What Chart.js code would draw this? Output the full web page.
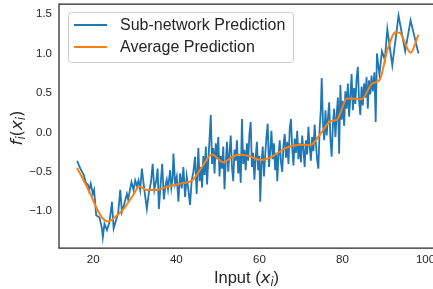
<!DOCTYPE html>
<html>
<head>
<meta charset="utf-8">
<title>Sub-network vs Average Prediction</title>
<style>
    html, body { margin: 0; padding: 0; background: #fff; overflow: hidden; }
    #wrap { position: relative; width: 433px; height: 289px; }
</style>
</head>
<body>
<div id="wrap"><canvas id="myChart"></canvas></div>

<script src="https://cdn.jsdelivr.net/npm/chart.js"></script>
<script>
// blue noisy line: one sub-network's prediction at each input
const subX = [
    16.1, 16.9, 17.7, 18.3, 18.7, 19.0, 19.4, 19.9, 20.2, 20.7, 21.5, 22.1, 22.3, 22.7, 23.3, 23.9,
    24.5, 24.9, 25.5, 26.0, 26.5, 26.9, 27.5, 28.1, 28.4, 29.2, 29.7, 30.1, 30.5, 30.9, 31.3, 31.7,
    32.3, 32.9, 33.4, 33.9, 34.3, 34.7, 35.2, 35.5, 35.8, 36.2, 36.6, 37.0, 37.4, 37.7, 38.0, 38.5,
    38.8, 39.1, 39.3, 39.7, 40.1, 40.5, 40.9, 41.3, 41.7, 42.1, 42.5, 42.9, 43.3, 43.7, 44.1, 44.5,
    44.9, 45.3, 45.6, 45.9, 46.2, 46.5, 46.8, 47.1, 47.4, 47.7, 48.0, 48.3, 48.6, 48.9, 49.2, 49.5,
    49.8, 50.1, 50.4, 50.7, 51.0, 51.3, 51.6, 51.9, 52.2, 52.5, 52.8, 53.1, 53.4, 53.7, 54.0, 54.3,
    54.6, 54.9, 55.2, 55.5, 55.8, 56.1, 56.4, 56.7, 57.0, 57.3, 57.6, 57.9, 58.2, 58.5, 58.8, 59.1,
    59.4, 59.7, 60.0, 60.2, 60.5, 60.8, 61.1, 61.4, 61.7, 62.0, 62.3, 62.6, 62.9, 63.2, 63.5, 63.8,
    64.1, 64.3, 64.6, 64.9, 65.2, 65.5, 65.8, 66.1, 66.4, 66.7, 67.0, 67.3, 67.6, 67.9, 68.2, 68.5,
    68.8, 69.1, 69.4, 69.7, 70.0, 70.3, 70.6, 70.9, 71.2, 71.5, 71.8, 72.1, 72.4, 72.7, 73.0, 73.3,
    73.6, 73.9, 74.2, 74.5, 74.8, 75.0, 75.3, 75.6, 75.9, 76.2, 76.5, 76.8, 77.1, 77.4, 77.7, 78.0,
    78.3, 78.6, 78.9, 79.2, 79.5, 79.8, 80.1, 80.4, 80.7, 81.0, 81.3, 81.6, 81.9, 82.2, 82.5, 82.8,
    83.1, 83.4, 83.7, 84.0, 84.3, 84.6, 84.9, 85.2, 85.5, 85.8, 86.1, 86.4, 86.7, 87.0, 87.3, 87.7,
    88.0, 88.3, 88.9, 89.5, 90.2, 90.8, 92.0, 93.5, 95.1, 96.4, 98.3
];
const subY = [
    -0.36, -0.46, -0.54, -0.65, -0.66, -0.74, -0.65, -0.78, -0.73, -1.05, -1.08, -1.22, -1.33, -1.16, -1.24, -1.14,
    -0.88, -1.22, -1.11, -1.02, -0.73, -1.01, -0.90, -0.78, -0.85, -0.63, -0.73, -0.61, -0.68, -0.61, -0.73, -0.46,
    -0.73, -0.97, -0.76, -0.63, -0.40, -0.73, -0.60, -0.46, -0.97, -0.67, -0.40, -0.85, -0.67, -0.60, -0.72, -0.48,
    -0.70, -0.58, -0.27, -0.65, -0.56, -0.88, -0.52, -0.71, -0.44, -0.82, -0.56, -0.73, -0.92, -0.61, -0.50, -0.31,
    -0.78, -0.20, -0.62, -0.44, -0.70, -0.30, -0.54, -0.18, -0.66, -0.36, -0.08, 0.22, -0.40, -0.20, -0.52, -0.14,
    -0.34, -0.06, -0.56, -0.30, -0.46, -0.18, -0.72, -0.38, -0.12, -0.50, -0.26, -0.04, -0.44, -0.62, -0.22, -0.36,
    -0.10, -0.52, -0.30, -0.64, 0.17, -0.40, -0.22, -0.48, -0.14, -0.36, -0.02, 0.13, -0.44, -0.26, -0.60, -0.32,
    -0.12, -0.48, -0.30, -0.88, -0.40, -0.18, -0.56, -0.28, -0.06, 0.11, -0.44, -0.24, 0.02, -0.34, -0.14, -0.48,
    -0.26, -0.62, -0.30, -0.10, -0.38, -0.50, -0.16, -0.02, -0.32, -0.12, -0.40, 0.04, 0.17, -0.20, -0.42, -0.08,
    -0.26, 0.02, -0.34, -0.14, -0.38, -0.04, -0.22, -0.44, -0.10, -0.28, 0.07, -0.18, -0.36, -0.06, -0.24, 0.10,
    -0.14, -0.35, -0.46, 0.04, 0.30, 0.69, 0.12, -0.10, 0.28, -0.04, 0.18, 0.38, -0.08, -0.31, 0.10, 0.30,
    -0.06, 0.22, 0.44, -0.27, 0.60, 0.16, 0.40, 0.08, 0.52, 0.30, 0.62, 0.20, 0.46, 0.74, 0.28, 0.56,
    0.36, 0.68, 0.83, 0.40, 0.22, 0.58, 0.34, 0.62, 0.44, 0.70, 0.30, 0.66, 0.48, 0.72, 0.52, 0.76,
    0.13, 1.00, 0.73, 1.03, 0.92, 1.31, 0.85, 1.48, 1.03, 1.42, 1.00
];

// orange smooth line: average over sub-networks
const avgX = [
    16.1, 17.7, 19.3, 20.9, 22.1, 23.7, 24.9, 27.3, 29.3, 31.1, 32.9, 35.3, 37.8, 41.0, 44.0, 45.8,
    48.6, 51.3, 53.2, 55.2, 57.5, 60.4, 63.0, 66.3, 69.5, 72.3, 74.7, 77.1, 78.7, 81.1, 84.6, 87.2,
    89.0, 90.8, 92.8, 93.8, 96.4, 98.3
];
const avgY = [
    -0.45, -0.61, -0.78, -0.97, -1.08, -1.13, -1.09, -0.97, -0.82, -0.69, -0.73, -0.73, -0.69, -0.65, -0.60, -0.47,
    -0.28, -0.38, -0.32, -0.28, -0.30, -0.35, -0.31, -0.20, -0.16, -0.16, -0.02, 0.14, 0.16, 0.43, 0.42, 0.62,
    0.67, 1.04, 1.27, 1.26, 1.01, 1.24
];

const xTicks = [20, 40, 60, 80, 100];
const yTicks = [-1.0, -0.5, 0.0, 0.5, 1.0, 1.5];

const blue = '#1f77b4';
const orange = '#ff7f0e';
const ink = '#262626';

function toPoints(xs, ys) {
    return xs.map((x, i) => ({ x: x, y: ys[i] }));
}

// draws a run of text pieces (used for the math-style axis labels)
function drawPieces(ctx, pieces, x, y) {
    let total = 0;
    pieces.forEach(p => {
        ctx.font = p.font;
        p.w = ctx.measureText(p.t).width;
        total += p.w;
    });
    let cx = x - total / 2;
    pieces.forEach(p => {
        ctx.font = p.font;
        ctx.fillText(p.t, cx, y + (p.dy || 0));
        cx += p.w;
    });
}

const framePlugin = {
    id: 'frame',
    afterDatasetsDraw(chart) {
        const ctx = chart.ctx;
        const a = chart.chartArea;
        ctx.save();

        // spines (right one falls outside the picture)
        ctx.strokeStyle = ink;
        ctx.lineWidth = 1.25;
        ctx.beginPath();
        ctx.moveTo(a.right + 2, a.top);
        ctx.lineTo(a.left, a.top);
        ctx.lineTo(a.left, a.bottom);
        ctx.lineTo(a.right + 2, a.bottom);
        ctx.stroke();

        // legend box
        ctx.beginPath();
        ctx.roundRect(68.5, 12.5, 225, 50, 3);
        ctx.fillStyle = 'rgba(255,255,255,0.8)';
        ctx.fill();
        ctx.strokeStyle = '#cccccc';
        ctx.lineWidth = 1;
        ctx.stroke();

        const rows = [25, 47];
        chart.data.datasets.forEach((ds, i) => {
            ctx.strokeStyle = ds.borderColor;
            ctx.lineWidth = ds.borderWidth;
            ctx.beginPath();
            ctx.moveTo(74, rows[i]);
            ctx.lineTo(107, rows[i]);
            ctx.stroke();
            ctx.fillStyle = ink;
            ctx.font = '16px "Liberation Sans", Arial, sans-serif';
            ctx.textBaseline = 'middle';
            ctx.textAlign = 'left';
            ctx.fillText(ds.label, 120, rows[i] + 1);
        });

        // axis titles
        ctx.fillStyle = ink;
        ctx.textBaseline = 'alphabetic';
        ctx.textAlign = 'left';
        const big = '16.5px "Liberation Sans", Arial, sans-serif';
        const mathIt = 'italic 16.5px "DejaVu Sans", sans-serif';
        const mathRm = '16.5px "DejaVu Sans", sans-serif';
        const mathSub = 'italic 11.5px "DejaVu Sans", sans-serif';

        drawPieces(ctx, [
            { t: 'Input (', font: big },
            { t: 'x', font: mathIt },
            { t: 'i', font: mathSub, dy: 3 },
            { t: ')', font: big }
        ], (a.left + 434) / 2, 282.5);

        ctx.translate(21.5, 128);
        ctx.rotate(-Math.PI / 2);
        drawPieces(ctx, [
            { t: 'f', font: mathIt },
            { t: 'i', font: mathSub, dy: 3 },
            { t: '(', font: mathRm },
            { t: 'x', font: mathIt },
            { t: 'i', font: mathSub, dy: 3 },
            { t: ')', font: mathRm }
        ], 0, 0);

        ctx.restore();
    }
};

const tickFont = { family: '"Liberation Sans", Arial, sans-serif', size: 11.5 };

new Chart(document.getElementById('myChart'), {
    type: 'line',
    data: {
        datasets: [
            {
                label: 'Sub-network Prediction',
                data: toPoints(subX, subY),
                borderColor: blue,
                borderWidth: 1.8,
                pointRadius: 0,
                tension: 0,
                order: 2
            }, {
                label: 'Average Prediction',
                data: toPoints(avgX, avgY),
                borderColor: orange,
                borderWidth: 2,
                pointRadius: 0,
                cubicInterpolationMode: 'monotone',
                order: 1
            }
        ]
    },
    options: {
        responsive: true,
        maintainAspectRatio: false,
        animation: false,
        devicePixelRatio: 1,
        layout: { padding: { top: 4, right: 0, bottom: 0, left: 0 } },
        plugins: {
            legend: { display: false },
            tooltip: { enabled: false }
        },
        scales: {
            x: {
                type: 'linear',
                min: 11.75,
                max: 101.8,
                grid: { display: false, drawTicks: false },
                border: { display: false },
                ticks: {
                    color: ink,
                    font: tickFont,
                    padding: 5,
                    maxRotation: 0,
                    callback: v => String(v)
                },
                afterBuildTicks: axis => { axis.ticks = xTicks.map(v => ({ value: v })); },
                afterFit: s => {
                    s.height = 41;
                    s.paddingLeft = 0;
                    s.paddingRight = 0;
                }
            },
            y: {
                min: -1.466,
                max: 1.627,
                grid: { display: false, drawTicks: false },
                border: { display: false },
                ticks: {
                    color: ink,
                    font: tickFont,
                    padding: 7,
                    callback: v => (v < 0 ? '\u2212' : '') + Math.abs(v).toFixed(1)
                },
                afterBuildTicks: axis => { axis.ticks = yTicks.map(v => ({ value: v })); },
                afterFit: s => {
                    s.width = 59;
                    s.paddingTop = 0;
                    s.paddingBottom = 0;
                }
            }
        }
    },
    plugins: [framePlugin]
});
</script>
</body>
</html>
